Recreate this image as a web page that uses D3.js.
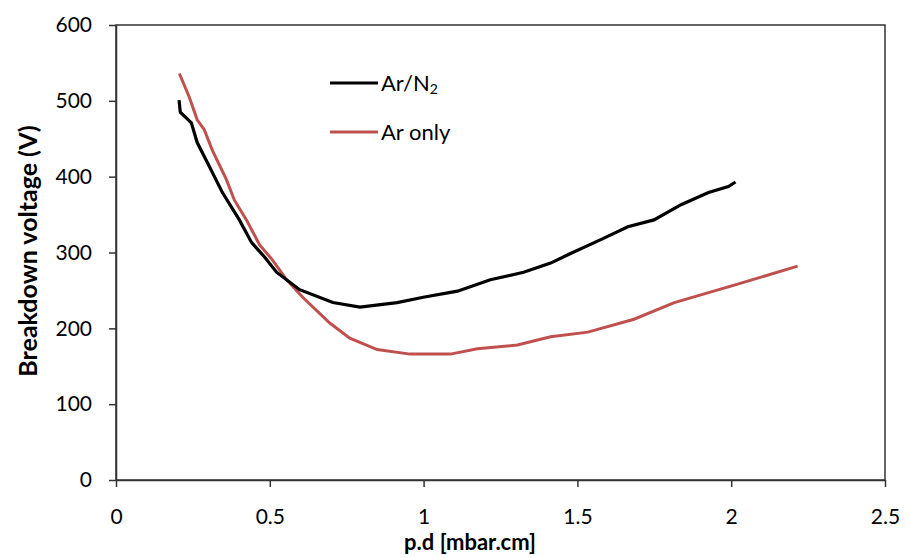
<!DOCTYPE html>
<html>
<head>
<meta charset="utf-8">
<script src="https://cdn.jsdelivr.net/npm/d3@7"></script>
<style>
  body { margin: 0; background: #fff; }
  text { font-family: Lato, "Open Sans", sans-serif; fill: #000; }
</style>
</head>
<body>
<div id="chart"></div>
<script>
// data
var arN2_x = [0.205, 0.209, 0.245, 0.264, 0.304, 0.346, 0.401, 0.441, 0.483, 0.522, 0.597, 0.705, 0.793, 0.914, 0.999, 1.11, 1.217, 1.325, 1.413, 1.469, 1.576, 1.664, 1.749, 1.837, 1.926, 1.991, 2.014];
var arN2_y = [501, 485, 471, 445, 413, 379, 343, 313, 294, 274, 251, 234, 228, 234, 241, 249, 264, 274, 286, 297, 317, 334, 343, 363, 379, 387, 393];

var ar_x = [0.206, 0.238, 0.264, 0.287, 0.313, 0.359, 0.385, 0.424, 0.467, 0.509, 0.555, 0.607, 0.695, 0.760, 0.849, 0.956, 1.087, 1.175, 1.305, 1.413, 1.534, 1.684, 1.815, 2.01, 2.216];
var ar_y = [536, 505, 475, 462, 435, 396, 369, 343, 310, 290, 264, 241, 207, 187, 172, 166, 166, 173, 178, 189, 195, 212, 234, 257, 282];

var xTicks = [0, 0.5, 1, 1.5, 2, 2.5];
var yTicks = [0, 100, 200, 300, 400, 500, 600];

var svgWidth = 911;
var svgHeight = 558;
var margin = {top: 25, right: 26, bottom: 78, left: 116};
var chartWidth = svgWidth - margin.left - margin.right;
var chartHeight = svgHeight - margin.top - margin.bottom;

var svg = d3.select("#chart").append("svg")
    .attr("width", svgWidth)
    .attr("height", svgHeight);

var chartGroup = svg.append("g")
    .attr("transform", `translate(${margin.left}, ${margin.top})`);

var xScale = d3.scaleLinear().domain([0, 2.5]).range([0, chartWidth]);
var yScale = d3.scaleLinear().domain([0, 600]).range([chartHeight, 0]);

// box round the plot
chartGroup.append("rect")
    .attr("width", chartWidth)
    .attr("height", chartHeight)
    .attr("fill", "none")
    .attr("stroke", "#333")
    .attr("stroke-width", 1.5);

var xAxis = d3.axisBottom(xScale).tickValues(xTicks).tickFormat(d3.format("")).tickSize(7).tickSizeOuter(0);
var yAxis = d3.axisLeft(yScale).tickValues(yTicks).tickSize(7).tickSizeOuter(0);

var gx = chartGroup.append("g")
    .attr("transform", `translate(0, ${chartHeight})`)
    .call(xAxis);
var gy = chartGroup.append("g").call(yAxis);

[gx, gy].forEach(function(g) {
    g.select(".domain").attr("stroke", "#333").attr("stroke-width", 1.5);
    g.selectAll(".tick line").attr("stroke", "#333").attr("stroke-width", 1.5);
    g.selectAll(".tick text").attr("font-size", "21px").attr("font-family", "Lato, sans-serif").attr("fill", "#000");
});
gx.selectAll(".tick text").attr("dy", "0").attr("y", 44);
gy.selectAll(".tick text").attr("x", -24);

// lines
var line = d3.line()
    .x(d => xScale(d[0]))
    .y(d => yScale(d[1]));

var arN2 = arN2_x.map((v, i) => [v, arN2_y[i]]);
var arOnly = ar_x.map((v, i) => [v, ar_y[i]]);

chartGroup.append("path")
    .datum(arOnly)
    .attr("fill", "none")
    .attr("stroke", "#C0504D")
    .attr("stroke-width", 3)
    .attr("d", line);

chartGroup.append("path")
    .datum(arN2)
    .attr("fill", "none")
    .attr("stroke", "#000")
    .attr("stroke-width", 3.2)
    .attr("d", line);

// legend
var legend = svg.append("g");
legend.append("line").attr("x1", 330).attr("x2", 378).attr("y1", 83).attr("y2", 83)
    .attr("stroke", "#000").attr("stroke-width", 3.2);
var t1 = legend.append("text").attr("x", 381).attr("y", 91).attr("font-size", "22px");
t1.append("tspan").text("Ar/N");
t1.append("tspan").attr("font-size", "14px").attr("dy", 3).text("2");
legend.append("line").attr("x1", 330).attr("x2", 378).attr("y1", 132).attr("y2", 132)
    .attr("stroke", "#C0504D").attr("stroke-width", 3);
legend.append("text").attr("x", 381).attr("y", 140).attr("font-size", "22px").text("Ar only");

// axis titles
svg.append("text")
    .attr("transform", `translate(470, 550)`)
    .attr("text-anchor", "middle")
    .attr("font-size", "22px")
    .attr("font-weight", "bold")
    .text("p.d [mbar.cm]");

svg.append("text")
    .attr("transform", `translate(37, 251) rotate(-90)`)
    .attr("text-anchor", "middle")
    .attr("font-size", "25px")
    .attr("font-weight", "bold")
    .text("Breakdown voltage (V)");
</script>
</body>
</html>
